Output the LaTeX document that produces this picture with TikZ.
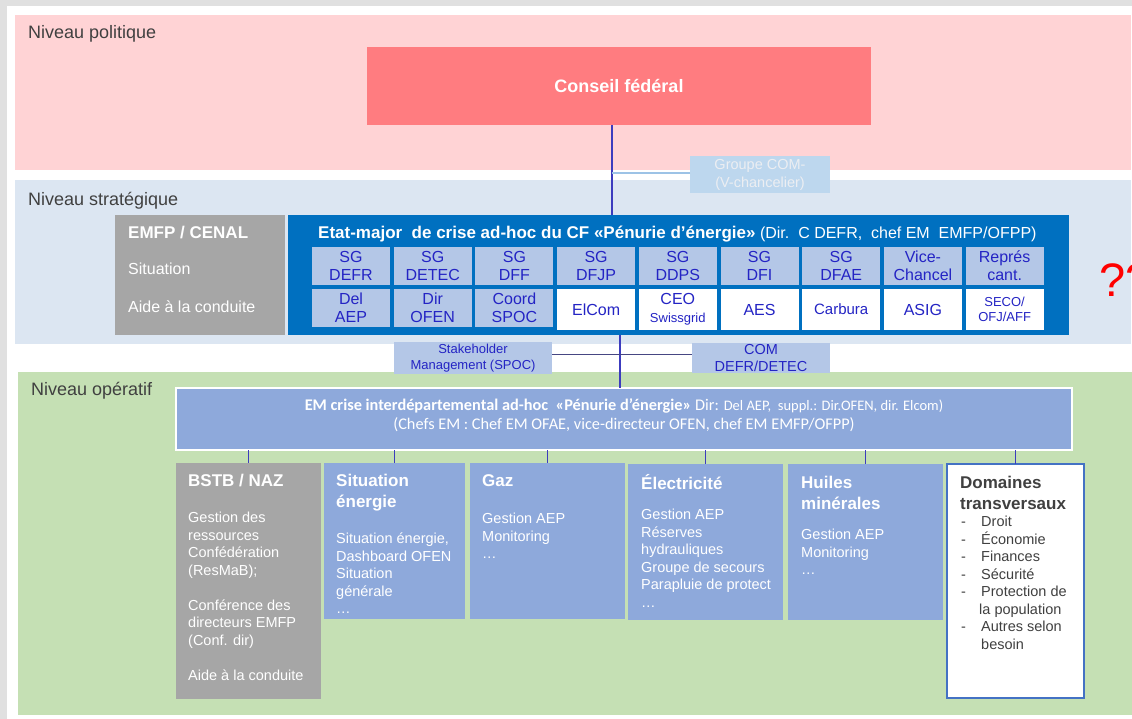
\documentclass[tikz,border=0pt]{standalone}
\usepackage{fontspec}
\setmainfont{Liberation Sans}
\newfontfamily\calibfont{Carlito}
\usetikzlibrary{positioning}

\definecolor{pagegray}{RGB}{224,224,224}
\definecolor{polpink}{RGB}{255,211,213}
\definecolor{cfred}{RGB}{255,124,128}
\definecolor{stratblue}{RGB}{220,230,242}
\definecolor{grpblue}{RGB}{189,215,238}
\definecolor{grptext}{RGB}{236,238,242}
\definecolor{emfpgray}{RGB}{166,166,166}
\definecolor{etatblue}{RGB}{0,112,192}
\definecolor{cellblue}{RGB}{180,199,231}
\definecolor{celltext}{RGB}{36,36,196}
\definecolor{opergreen}{RGB}{197,224,180}
\definecolor{emblue}{RGB}{142,169,219}
\definecolor{domblue}{RGB}{68,114,196}
\definecolor{lvltext}{RGB}{64,64,64}
\definecolor{spineblue}{RGB}{60,60,190}
\definecolor{linkgray}{RGB}{70,70,130}
\definecolor{linklight}{RGB}{157,195,230}

\newcommand{\fsz}[2]{\fontsize{#1}{#2}\selectfont}
\newcommand{\domitem}[1]{\makebox[20pt][l]{-}#1}
\newcommand{\swissline}{{\fsz{13}{15}Swissgrid}}

\begin{document}
\begin{tikzpicture}[x=1pt,y=-1pt,
    box/.style={anchor=north west,inner sep=0pt,outer sep=0pt},
    lvl/.style={anchor=north west,inner sep=0pt,text=lvltext,font=\fsz{18}{21}},
    cell/.style={box,fill=cellblue,text=celltext,minimum width=78pt,minimum height=38pt,align=center,font=\fsz{16}{18}},
    wcell/.style={cell,fill=white,minimum height=41pt},
    carbcell/.style={wcell,font=\fsz{15}{18}},
    secocell/.style={wcell,font=\fsz{13}{15.5}},
    obox/.style={box,fill=emblue,minimum height=156pt},
    otitle/.style={anchor=north west,inner sep=0pt,text=white,align=left,font=\bfseries\fsz{17}{20.7}},
    obody/.style={anchor=north west,inner sep=0pt,text=white,align=left,font=\fsz{14.5}{17.5}},
    spine/.style={spineblue,line width=1.2pt},
    tick/.style={spineblue,line width=1pt}]
    \useasboundingbox (0,0) rectangle (1132,719);
    \fill[pagegray] (0,0) rectangle (1132,719);
    \fill[white] (7,6) rectangle (1132,719);

    % Level bands
    \node[box,fill=polpink,minimum width=1116pt,minimum height=155pt] (pol) at (15,15) {};
    \node[box,fill=stratblue,minimum width=1116pt,minimum height=164pt] (strat) at (15,180) {};
    \node[box,fill=opergreen,minimum width=1114pt,minimum height=343pt] (oper) at (18,372) {};
    \node[lvl] (polL) at (28,25) {Niveau politique};
    \node[lvl] (stratL) at (28,192) {Niveau stratégique};
    \node[lvl] (operL) at (31,382) {Niveau opératif};

    % Political level
    \node[box,fill=cfred,minimum width=504pt,minimum height=78pt,text=white,font=\bfseries\fsz{18}{21}] (cf) at (367,47) {Conseil fédéral};
    \node[box,fill=grpblue,minimum width=140pt,minimum height=37pt,text=grptext,align=center,font=\fsz{14.5}{18}] (grp) at (690,156) {Groupe COM-\\(V-chancelier)};

    % Strategic level
    \node[box,fill=emfpgray,minimum width=170pt,minimum height=120pt] (emfp) at (115,215) {};
    \node[anchor=north west,inner sep=0pt,text=white,font=\bfseries\fsz{17}{20}] (emfpT) at (128,226) {EMFP / CENAL};
    \node[anchor=north west,inner sep=0pt,text=white,font=\fsz{16}{19}] (emfpS) at (128,263) {Situation};
    \node[anchor=north west,inner sep=0pt,text=white,font=\fsz{16}{19}] (emfpA) at (128,301) {Aide à la conduite};

    \node[box,fill=etatblue,minimum width=781pt,minimum height=120pt] (etat) at (288,215) {};
    \node[anchor=north west,inner sep=0pt,text=white,font=\fsz{16}{19}] (etatT) at (318,226)
        {{\bfseries\fsz{17}{19}Etat-major\ \ de crise ad-hoc du CF «Pénurie d’énergie»} (Dir.\ \ C DEFR,\ \ chef EM\ \ EMFP/OFPP)};

    \foreach \i/\txt in {0/{SG\\DEFR},1/{SG\\DETEC},2/{SG\\DFF},3/{SG\\DFJP},4/{SG\\DDPS},
                        5/{SG\\DFI},6/{SG\\DFAE},7/{Vice-\\Chancel},8/{Représ\\cant.}}
        \node[cell] (a\i) at (312+81.7*\i,247) {\txt};
    \foreach \i/\sty/\txt in {0/cell/{Del\\AEP},1/cell/{Dir\\OFEN},2/cell/{Coord\\SPOC},3/wcell/{ElCom},
                             4/wcell/{CEO\\\swissline},5/wcell/{AES},6/carbcell/{Carbura},
                             7/wcell/{ASIG},8/secocell/{SECO/\\OFJ/AFF}}
        \node[\sty] (b\i) at (312+81.7*\i,289) {\txt};

    % ??
    \begin{scope}
        \clip (0,0) rectangle (1132,719);
        \node[anchor=base west,inner sep=0pt,text=red,font=\fsz{47}{50}] (qm) at (1099,297) {??};
    \end{scope}

    \node[box,fill=cellblue,minimum width=158pt,minimum height=32pt,text=celltext,align=center,font=\fsz{13}{15.5}] (stake) at (394,342) {Stakeholder\\Management (SPOC)};
    \node[box,fill=cellblue,minimum width=138pt,minimum height=30pt,text=celltext,align=center,font=\fsz{14.5}{17}] (com) at (692,343) {COM\\DEFR/DETEC};

    % Operative level
    \node[box,fill=emblue,draw=white,line width=2.5pt,minimum width=896pt,minimum height=62pt] (emc) at (176,388) {};
    \node[inner sep=0pt,text=white,align=center,font=\calibfont\fsz{16.3}{19.5}] (emcT) at (624,415)
        {\textbf{EM crise interdépartemental ad-hoc\ \ «Pénurie d’énergie»} Dir: {\fsz{14.5}{19.5}Del AEP,\ \ suppl.: Dir.OFEN, dir. Elcom)}\\(Chefs EM : Chef EM OFAE, vice-directeur OFEN, chef EM EMFP/OFPP)};

    \node[box,fill=emfpgray,minimum width=145pt,minimum height=236pt] (bstb) at (176,463) {};
    \node[obox,minimum width=141pt] (sitn) at (324,463) {};
    \node[obox,minimum width=155pt] (gaz) at (470,463) {};
    \node[obox,minimum width=155pt] (elec) at (628,464) {};
    \node[obox,minimum width=155pt] (huil) at (788,464) {};
    \node[box,fill=white,draw=domblue,line width=1.5pt,minimum width=137pt,minimum height=234pt] (dom) at (947,464) {};

    \node[otitle] (bstbT) at (188,474) {BSTB / NAZ};
    \node[obody] (bstbB) at (188,512) {Gestion des\\ressources\\Confédération\\(ResMaB);\\[17.5pt]Conférence des\\directeurs EMFP\\(Conf. dir)\\[17.5pt]Aide à la conduite};
    \node[otitle] (sitnT) at (336,474) {Situation\\énergie};
    \node[obody] (sitnB) at (336,533) {Situation énergie,\\Dashboard OFEN\\Situation\\générale\\…};
    \node[otitle] (gazT) at (482,474) {Gaz};
    \node[obody] (gazB) at (482,513) {Gestion AEP\\Monitoring\\…};
    \node[otitle] (elecT) at (641,474) {Électricité};
    \node[obody] (elecB) at (641,509) {Gestion AEP\\Réserves\\hydrauliques\\Groupe de secours\\Parapluie de protect\\…};
    \node[otitle] (huilT) at (801,476) {Huiles\\minérales};
    \node[obody] (huilB) at (801,529) {Gestion AEP\\Monitoring\\…};
    \node[otitle,text=lvltext] (domT) at (960,476) {Domaines\\transversaux};
    \node[obody,text=lvltext] (domB) at (961,516) {\domitem{Droit}\\\domitem{Économie}\\\domitem{Finances}\\\domitem{Sécurité}\\\domitem{Protection de}\\\makebox[18pt]{}la population\\\domitem{Autres selon}\\\makebox[20pt]{}besoin};

    % Connectors
    \coordinate (sp1) at (612,0);
    \coordinate (sp2) at (620,0);
    \draw[spine] (cf.south -| sp1) -- (etat.north -| sp1);
    \draw[linklight,line width=1.5pt] ([yshift=1.5pt]grp.west) -- ([yshift=1.5pt]grp.west -| sp1);
    \draw[spine] (etat.south -| sp2) -- (emc.north -| sp2);
    \draw[linkgray,line width=1pt] ([yshift=4pt]stake.east) -- ([yshift=4pt]com.west);
    \foreach \b in {bstb,sitn,gaz,elec,huil,dom}
        \draw[tick] (emc.south -| \b.north) -- (\b.north);
\end{tikzpicture}
\end{document}
